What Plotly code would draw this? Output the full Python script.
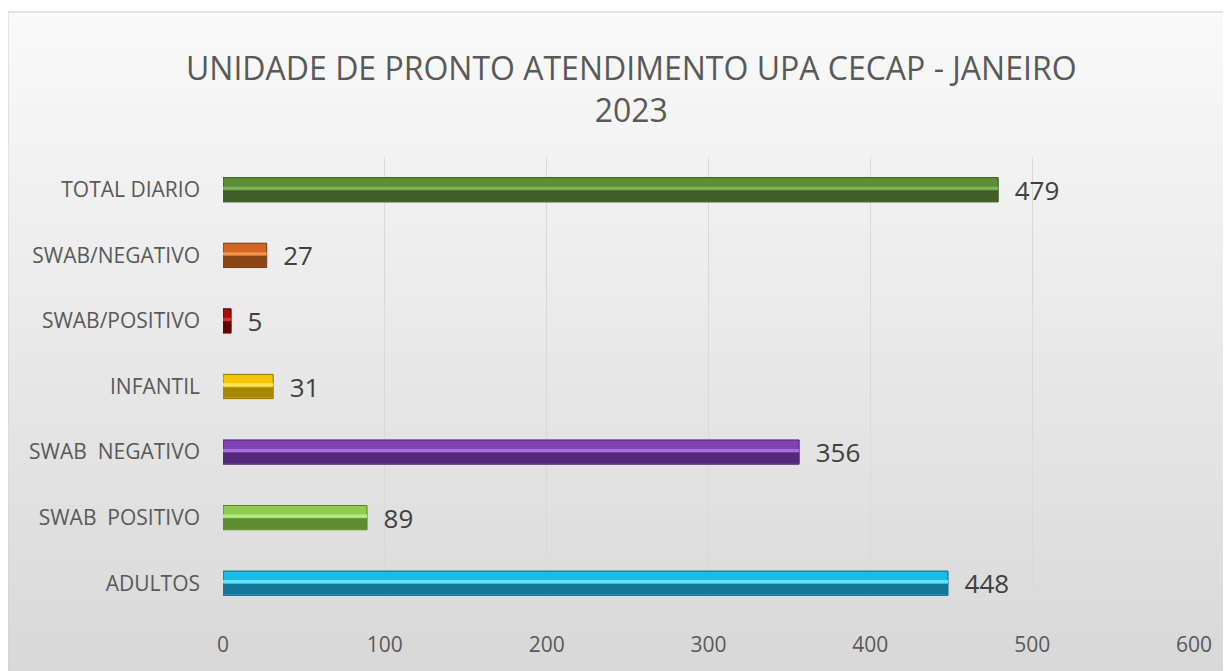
import plotly.graph_objects as go

categories = ["ADULTOS", "SWAB  POSITIVO", "SWAB  NEGATIVO", "INFANTIL",
              "SWAB/POSITIVO", "SWAB/NEGATIVO", "TOTAL DIARIO"]
values = [448, 89, 356, 31, 5, 27, 479]
x_ticks = [0, 100, 200, 300, 400, 500, 600]
title_lines = ["UNIDADE DE PRONTO ATENDIMENTO UPA CECAP - JANEIRO", "2023"]

mid_colors = ["#1cbae8", "#8fcc50", "#7f42b2", "#f4c400", "#a80c0c", "#d06622", "#5c8e36"]
light_colors = ["#5ce4fc", "#b4ec84", "#a872d8", "#ffe45a", "#d43434", "#f29250", "#82b25c"]
dark_colors = ["#137898", "#5f8c30", "#53297c", "#a88800", "#640202", "#8a4415", "#405f27"]
edge_colors = ["#0e6584", "#56802a", "#46226a", "#927400", "#520000", "#76390f", "#35501f"]

# page body has an 8px margin; figure is sized to the visible area
OFF = 8
W, H = 1231 - OFF, 671 - OFF


def fx(px):
    return (px - OFF) / W


def fy(py):
    return 1 - (py - OFF) / H


fig = go.Figure()

# background gradient inside chart box
top_px, bot_px = 12, 680
n = 50
for i in range(n):
    t = i / (n - 1)
    c = int(round(249 - t * (249 - 216)))
    y_top = fy(top_px + (bot_px - top_px) * i / n)
    y_bot = fy(top_px + (bot_px - top_px) * (i + 1) / n)
    fig.add_shape(type="rect", xref="paper", yref="paper", x0=fx(8), x1=fx(1229),
                  y0=y_bot, y1=y_top + 0.001, fillcolor=f"rgb({c},{c},{c})",
                  line_width=0, layer="below")
fig.add_shape(type="rect", xref="paper", yref="paper", x0=fx(8), x1=fx(1229),
              y0=fy(690), y1=fy(12), line=dict(color="#d0d0d0", width=1),
              fillcolor="rgba(0,0,0,0)", layer="below")

bw = 0.37
labels = ["\u00a0\u00a0" + str(v) for v in values]
# base bar
fig.add_trace(go.Bar(y=categories, x=values, orientation="h", width=bw,
                     marker=dict(color=mid_colors, line=dict(color=edge_colors, width=1)),
                     text=labels, textposition="outside", cliponaxis=False,
                     constraintext="none",
                     textfont=dict(size=26, color="#404040", family="Open Sans"),
                     hoverinfo="skip", showlegend=False))
# bottom shade
fig.add_trace(go.Bar(y=categories, x=values, orientation="h", width=bw * 0.44,
                     offset=-bw / 2 + 0.012,
                     marker=dict(color=dark_colors, line_width=0),
                     hoverinfo="skip", showlegend=False))
# highlight stripe
fig.add_trace(go.Bar(y=categories, x=values, orientation="h", width=bw * 0.13,
                     offset=bw * 0.0,
                     marker=dict(color=light_colors, line_width=0),
                     hoverinfo="skip", showlegend=False))

fig.add_annotation(text="<br>".join(title_lines), xref="paper", yref="paper",
                   x=fx(631), y=fy(88), xanchor="center", yanchor="middle",
                   showarrow=False, font=dict(family="Open Sans", size=32, color="#595959"))

fig.update_layout(
    width=W, height=H, barmode="overlay",
    margin=dict(l=0, r=0, t=0, b=0),
    paper_bgcolor="white", plot_bgcolor="rgba(0,0,0,0)",
    xaxis=dict(domain=[fx(223), fx(1194)], range=[0, 600], tickvals=x_ticks,
               ticktext=[str(v) for v in x_ticks], showgrid=True,
               gridcolor="#d9d9d9", gridwidth=1, zeroline=False, automargin=False,
               ticklabelstandoff=14, showline=False,
               tickfont=dict(family="Open Sans", size=21, color="#595959"), fixedrange=True),
    yaxis=dict(domain=[fy(616), fy(157)], type="category",
               categoryorder="array", categoryarray=categories,
               tickvals=categories, ticktext=[c.replace("  ", " \u00a0") for c in categories],
               range=[-0.5, 6.5], showgrid=False, zeroline=False, automargin=False,
               ticklabelstandoff=22, showline=False,
               tickfont=dict(family="Open Sans", size=21, color="#595959"), fixedrange=True),
)

fig.write_html("out.html")
